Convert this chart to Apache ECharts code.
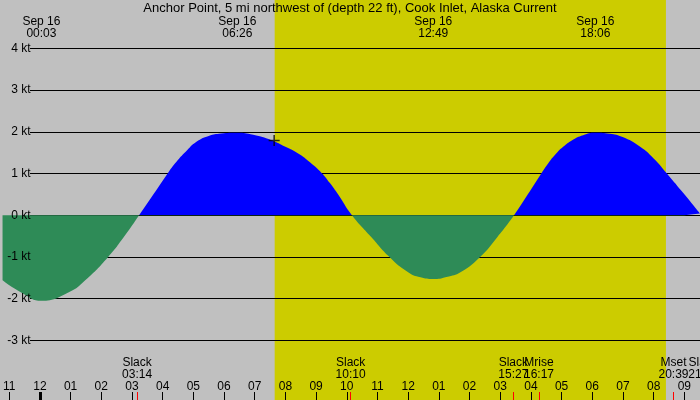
<!DOCTYPE html>
<html>
<head>
    <meta charset="utf-8">
    <title>Anchor Point Current</title>
    <script src="https://cdn.jsdelivr.net/npm/echarts@6/dist/echarts.min.js"></script>
    <style>
        html, body { margin: 0; padding: 0; background: #c0c0c0; }
        #chart { width: 700px; height: 400px; }
    </style>
</head>
<body>
<div id="chart"></div>
<script>
    // current speed: hours after midnight Sep 16, knots
    var curveHours = [-1.218, -0.568, 0.05, 0.958, 1.477, 2.224, 2.776, 3.233,
        3.70, 4.162, 4.45, 4.75, 5.10, 5.50, 5.90, 6.433, 6.95, 7.549, 8.0, 8.416, 8.80, 9.172, 9.45, 9.714, 10.167,
        10.795, 11.39, 11.987, 12.4, 12.817, 13.25, 13.718, 14.344, 14.909, 15.45,
        15.9, 16.338, 16.60, 16.802, 17.05, 17.344, 17.7, 18.1, 18.5, 18.968, 19.56, 20.0, 20.43, 21.0, 21.51];
    var curveKnots = [-1.56, -1.87, -2.05, -1.84, -1.56, -1.0, -0.48, 0,
        0.50, 1.0, 1.28, 1.52, 1.76, 1.90, 1.96, 1.98, 1.93, 1.80, 1.64, 1.48, 1.27, 1.02, 0.77, 0.50, 0,
        -0.52, -1.0, -1.36, -1.49, -1.53, -1.48, -1.36, -1.0, -0.52, 0,
        0.50, 1.0, 1.28, 1.46, 1.64, 1.80, 1.92, 1.98, 1.96, 1.88, 1.64, 1.36, 1.0, 0.50, 0.04];

    var extremeTimes = ['00:03', '06:26', '12:49', '18:06'];
    var eventNames = ['Slack', 'Slack', 'Slack', 'Mrise', 'Mset', 'Slack'];
    var eventTimes = ['03:14', '10:10', '15:27', '16:17', '20:39', '21:37'];
    var hourTicks = [-1, 0, 1, 2, 3, 4, 5, 6, 7, 8, 9, 10, 11, 12, 13, 14, 15, 16, 17, 18, 19, 20, 21];
    var knotTicks = [-3, -2, -1, 0, 1, 2, 3, 4];
    var daylight = ['07:39', '20:24'];
    var nowTime = '07:38';
    var nowKnots = 1.79;

    var W = 700, H = 400;
    var xMin = -1.218, xMax = 21.51;
    var yMin = -4.43, yMax = 5.16;
    var font = 'Liberation Sans';
    var floodColor = '#0000ff', ebbColor = '#2e8b57';

    function toHour(t) {
        var p = t.split(':');
        return +p[0] + p[1] / 60;
    }
    function hourLabel(v) {
        var h = ((Math.round(v) % 12) + 12) % 12;
        if (h === 0) h = 12;
        return (h < 10 ? '0' : '') + h;
    }

    var curve = curveHours.map(function (h, i) { return [h, curveKnots[i]]; });
    var extremeHours = extremeTimes.map(toHour);
    var eventHours = eventTimes.map(toHour);
    // event grid runs past the right edge so the last label gets cut off
    var extra = 70;
    var xMax2 = xMax + (xMax - xMin) * extra / W;

    // fill colour switches at 0 kt
    var zeroAt = yMax / (yMax - yMin);
    var fillColor = {
        type: 'linear', x: 0, y: 0, x2: 0, y2: H, global: true,
        colorStops: [
            { offset: 0, color: floodColor },
            { offset: zeroAt, color: floodColor },
            { offset: zeroAt, color: ebbColor },
            { offset: 1, color: ebbColor }
        ]
    };

    var chart = echarts.init(document.getElementById('chart'));
    var txt = { fontFamily: font, fontSize: 12, color: '#000', lineHeight: 12 };
    var noLine = { show: false, onZero: false };

    function eventLabel(v) {
        var i = eventHours.findIndex(function (h) { return Math.abs(h - v) < 1e-6; });
        return eventNames[i] + '\n' + eventTimes[i];
    }
    // neighbouring event labels touch, so put every other one on its own axis
    function eventAxis(parity) {
        var vals = eventHours.filter(function (h, i) { return i % 2 === parity; });
        return {
            gridIndex: 2, type: 'value', min: xMin, max: xMax2, position: 'bottom',
            axisLine: noLine, splitLine: { show: false },
            axisTick: { inside: true, length: 8, customValues: vals, lineStyle: { color: '#ff0000' } },
            axisLabel: Object.assign({
                inside: true, margin: 19, customValues: vals,
                showMinLabel: true, showMaxLabel: true, hideOverlap: false,
                formatter: eventLabel
            }, txt)
        };
    }

    var option = {
        backgroundColor: '#c0c0c0',
        animation: false,
        title: {
            text: 'Anchor Point, 5 mi northwest of (depth 22 ft), Cook Inlet, Alaska Current',
            left: 'center', top: 2, padding: 0,
            textStyle: { fontFamily: font, fontSize: 13, fontWeight: 'normal', color: '#000', lineHeight: 13 }
        },
        grid: [
            { left: 0, right: 0, top: 0, bottom: 0 },
            { left: 30, right: 0, top: 0, bottom: 0 },
            { left: 0, top: 0, bottom: 0, width: W + extra, outerBoundsMode: 'none' }
        ],
        xAxis: [
            {
                gridIndex: 0, type: 'value', min: xMin, max: xMax, position: 'bottom',
                axisLine: noLine, splitLine: { show: false },
                axisTick: { inside: true, length: 8, customValues: hourTicks, lineStyle: { color: '#000' } },
                axisLabel: Object.assign({
                    inside: true, margin: 7, customValues: hourTicks, formatter: hourLabel,
                    showMinLabel: true, showMaxLabel: true, hideOverlap: false
                }, txt)
            },
            {
                // midnight
                gridIndex: 0, type: 'value', min: xMin, max: xMax, position: 'bottom',
                axisLine: noLine, splitLine: { show: false }, axisLabel: { show: false },
                axisTick: { inside: true, length: 8, customValues: [0], lineStyle: { color: '#000', width: 3 } }
            },
            {
                gridIndex: 0, type: 'value', min: xMin, max: xMax, position: 'top',
                axisLine: noLine, splitLine: { show: false }, axisTick: { show: false },
                axisLabel: Object.assign({
                    inside: true, margin: 16, customValues: extremeHours,
                    showMinLabel: true, showMaxLabel: true, hideOverlap: false,
                    formatter: function (v) {
                        var i = extremeHours.findIndex(function (h) { return Math.abs(h - v) < 1e-6; });
                        return 'Sep 16\n' + extremeTimes[i];
                    }
                }, txt)
            },
            { gridIndex: 1, type: 'value', min: xMin, max: xMax, show: false },
            eventAxis(0),
            eventAxis(1)
        ],
        yAxis: [
            {
                gridIndex: 0, type: 'value', min: yMin, max: yMax, z: 5,
                axisLine: noLine, axisTick: { show: false }, splitLine: { show: false },
                axisLabel: Object.assign({
                    inside: true, margin: 28, align: 'right', customValues: knotTicks,
                    showMinLabel: true, showMaxLabel: true,
                    formatter: function (v) { return v + ' kt'; }
                }, txt)
            },
            {
                gridIndex: 1, type: 'value', min: yMin, max: yMax,
                axisLine: noLine, axisLabel: { show: false },
                axisTick: { show: false, customValues: knotTicks },
                splitLine: { show: true, lineStyle: { color: '#000', width: 1 } }
            },
            { gridIndex: 2, type: 'value', min: yMin, max: yMax, show: false }
        ],
        series: [
            {
                name: 'current',
                type: 'line',
                xAxisIndex: 0, yAxisIndex: 0,
                data: curve,
                smooth: 0.5,
                showSymbol: false,
                lineStyle: { width: 0 },
                areaStyle: { opacity: 1, color: fillColor },
                z: 2
            },
            {
                // daylight
                type: 'line',
                xAxisIndex: 0, yAxisIndex: 0,
                data: [],
                z: -1,
                markArea: {
                    silent: true, z: -1,
                    itemStyle: { color: '#cccc00' },
                    data: [[{ xAxis: toHour(daylight[0]) }, { xAxis: toHour(daylight[1]) }]]
                }
            },
            {
                type: 'scatter',
                xAxisIndex: 0, yAxisIndex: 0,
                data: [[toHour(nowTime), nowKnots]],
                symbol: 'path://M0 4.75H11V6.25H0ZM4.75 0H6.25V11H4.75Z',
                symbolSize: 11,
                itemStyle: { color: '#000' },
                z: 4
            }
        ]
    };

    chart.setOption(option);
</script>
</body>
</html>
